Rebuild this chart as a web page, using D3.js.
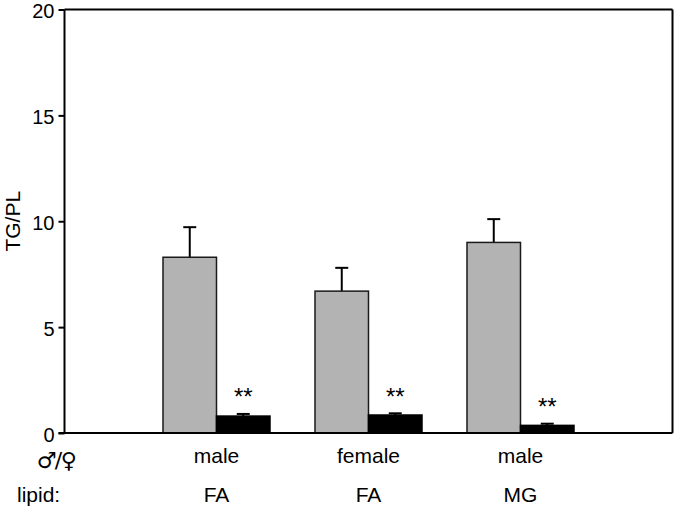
<!DOCTYPE html>
<html>
<head>
<meta charset="utf-8">
<script src="https://cdn.jsdelivr.net/npm/d3@7"></script>
<style>
  html, body { margin: 0; padding: 0; background: #fff; }
  text { font-family: "Liberation Sans", Arial, Helvetica, sans-serif; fill: #000; }
</style>
</head>
<body>
<svg id="chart" width="675" height="508"></svg>
<script>
// ---- data ----
const groups = ["g1", "g2", "g3"];
const sexLabels = ["male", "female", "male"];
const lipidLabels = ["FA", "FA", "MG"];
const controlValues = [8.3, 6.7, 9.0];
const controlErrors = [1.42, 1.1, 1.1];
const treatedValues = [0.8, 0.85, 0.36];
const treatedErrors = [0.1, 0.08, 0.08];
const significance = ["**", "**", "**"];
const yTicks = [0, 5, 10, 15, 20];
const yLabel = "TG/PL";
const rowLabels = ["\u2642/\u2640", "lipid:"];

// ---- layout ----
const svg = d3.select("#chart");
const pLeft = 64.5, pRight = 672.5, pTop = 9.5, pBottom = 433;
const fs = "21px";

const x = d3.scalePoint()
  .domain(["start"].concat(groups, ["end"]))
  .range([pLeft, pRight]);
const y = d3.scaleLinear().domain([0, 20]).range([pBottom, pTop]);

const barW = 53.5;
const capW = 13;

const g = svg.append("g");

function drawSeries(values, errors, offset, fill, stroke) {
  g.selectAll(null).data(groups).enter().append("line")
    .attr("x1", d => x(d) + offset + barW / 2)
    .attr("x2", d => x(d) + offset + barW / 2)
    .attr("y1", (d, i) => y(values[i]))
    .attr("y2", (d, i) => y(values[i] + errors[i]))
    .attr("stroke", "#000").attr("stroke-width", 2);
  g.selectAll(null).data(groups).enter().append("line")
    .attr("x1", d => x(d) + offset + barW / 2 - capW / 2)
    .attr("x2", d => x(d) + offset + barW / 2 + capW / 2)
    .attr("y1", (d, i) => y(values[i] + errors[i]))
    .attr("y2", (d, i) => y(values[i] + errors[i]))
    .attr("stroke", "#000").attr("stroke-width", 2);
  g.selectAll(null).data(groups).enter().append("rect")
    .attr("x", d => x(d) + offset)
    .attr("width", barW)
    .attr("y", (d, i) => y(values[i]))
    .attr("height", (d, i) => y(0) - y(values[i]))
    .attr("fill", fill)
    .attr("stroke", stroke).attr("stroke-width", 1.5);
}
drawSeries(controlValues, controlErrors, -barW, "#b3b3b3", "#1a1a1a");
drawSeries(treatedValues, treatedErrors, 0, "#000", "#000");

// significance stars
g.selectAll(null).data(groups).enter().append("text")
  .attr("x", d => x(d) + barW / 2)
  .attr("y", (d, i) => y(treatedValues[i] + treatedErrors[i]) - 8.5)
  .attr("text-anchor", "middle")
  .style("font-size", "24px")
  .text((d, i) => significance[i]);

// frame (top & right)
svg.append("line").attr("x1", pLeft).attr("x2", pRight).attr("y1", pTop).attr("y2", pTop)
  .attr("stroke", "#000").attr("stroke-width", 2);
svg.append("line").attr("x1", pRight).attr("x2", pRight).attr("y1", pTop).attr("y2", pBottom)
  .attr("stroke", "#000").attr("stroke-width", 2);

// y axis
const yAxis = svg.append("g").attr("transform", `translate(${pLeft},0)`)
  .call(d3.axisLeft(y).tickValues(yTicks).tickSize(6).tickPadding(4).tickFormat(d3.format("d")));
yAxis.select(".domain").attr("stroke", "#000").attr("stroke-width", 2)
  .attr("d", `M0,${pTop}V${pBottom}`);
yAxis.selectAll(".tick line").attr("stroke", "#000").attr("stroke-width", 2);
yAxis.selectAll(".tick text").style("font-size", "20px").attr("fill", "#000").attr("dy", "0.42em");

// x axis (baseline, no ticks)
const xAxis = svg.append("g").attr("transform", `translate(0,${pBottom})`)
  .call(d3.axisBottom(x).tickSize(0).tickFormat(""));
xAxis.select(".domain").attr("stroke", "#000").attr("stroke-width", 2)
  .attr("d", `M${pLeft - 6},0H${pRight}`);

// y label
svg.append("text")
  .attr("transform", `translate(20,${(pTop + pBottom) / 2}) rotate(-90)`)
  .attr("text-anchor", "middle")
  .style("font-size", fs)
  .text(yLabel);

// category rows
svg.selectAll(null).data(groups).enter().append("text")
  .attr("x", d => x(d)).attr("y", 463)
  .attr("text-anchor", "middle").style("font-size", fs)
  .text((d, i) => sexLabels[i]);
svg.selectAll(null).data(groups).enter().append("text")
  .attr("x", d => x(d)).attr("y", 502)
  .attr("text-anchor", "middle").style("font-size", fs)
  .text((d, i) => lipidLabels[i]);

svg.append("text").attr("x", 56).attr("y", 468).attr("text-anchor", "middle")
  .style("font-family", "'DejaVu Sans', sans-serif")
  .style("font-size", "22px").attr("letter-spacing", "-1.5px").text(rowLabels[0]);
svg.append("text").attr("x", 17).attr("y", 502).attr("text-anchor", "start")
  .style("font-size", fs).text(rowLabels[1]);
</script>
</body>
</html>
